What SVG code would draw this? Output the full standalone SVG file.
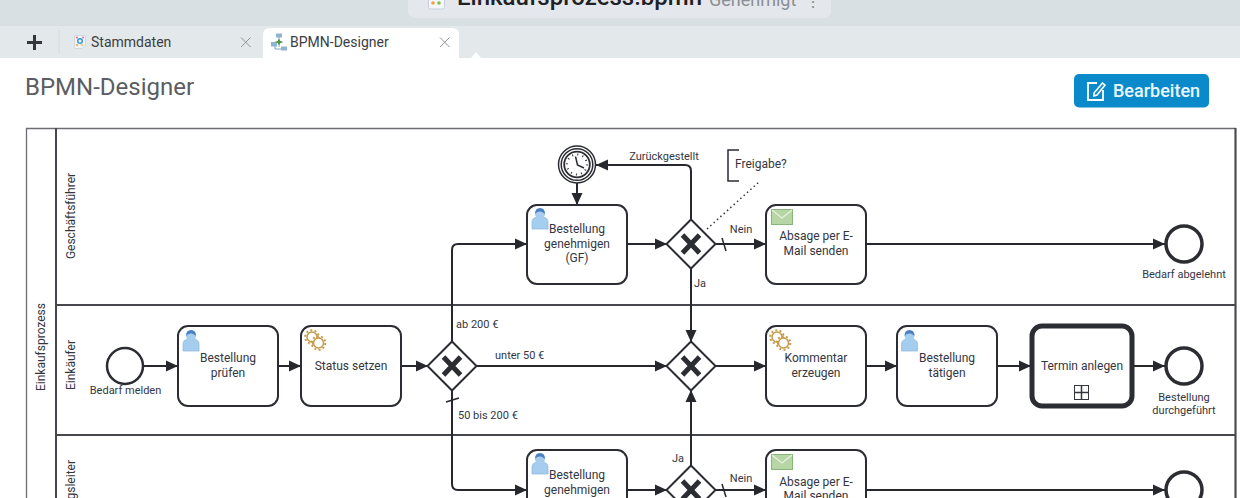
<svg xmlns="http://www.w3.org/2000/svg" xmlns:xlink="http://www.w3.org/1999/xlink" width="1240" height="498" viewBox="0 0 1240 498">
<style>
text{font-family:Roboto,"Liberation Sans",sans-serif;fill:#33363f}
.t{font-size:12px;text-anchor:middle}
.l{font-size:11px}
.c{text-anchor:middle}
.task{fill:#fff;stroke:#2b2d33;stroke-width:2}
.gw{fill:#fff;stroke:#2b2d33;stroke-width:2}
.ev{fill:#fff;stroke:#2b2d33;stroke-width:2.5}
.end{fill:#fff;stroke:#2b2d33;stroke-width:3.5}
.x{fill:none;stroke:#2b2d33;stroke-width:5}
.f{fill:none;stroke:#26282e;stroke-width:2}
.a{marker-end:url(#arr)}
.s{fill:none;stroke:#26282e;stroke-width:1.5}
.lane{fill:none;stroke:#45474d;stroke-width:2}
</style>
<defs>
<marker id="arr" markerUnits="userSpaceOnUse" markerWidth="13" markerHeight="12" refX="12" refY="6" orient="auto"><path d="M0 .5L12 6L0 11.500z" fill="#26282e"/></marker>
<g id="user"><path d="M4 24V17Q4 13 9 12H15Q20 13 20 17V24Z" fill="#a5cdee" stroke="#8bb6de" stroke-width=".7"/><circle cx="12" cy="9" r="5" fill="#a5cdee"/><path d="M7 9Q7 3 12 3Q17 3 17 9Q14 6 12 6.500Q9 6 7 9Z" fill="#4a80c4"/></g>
<g id="gear"><circle cx="9" cy="9" r="5" fill="none" stroke="#c79a4b" stroke-width="1.500"/><circle cx="9" cy="9" r="6.800" fill="none" stroke="#c79a4b" stroke-width="2" stroke-dasharray="2 2.300"/><circle cx="15.500" cy="15" r="5" fill="#fff" stroke="#c79a4b" stroke-width="1.500"/><circle cx="15.500" cy="15" r="6.800" fill="none" stroke="#c79a4b" stroke-width="2" stroke-dasharray="2 2.300"/></g>
<g id="mail"><rect x=".5" y=".5" width="21" height="15" fill="#b6d6a6" stroke="#8ab57a"/><path d="M1 1L11 9L21 1" fill="none" stroke="#e8f2e0" stroke-width="1.200"/></g>
<path id="xm" d="M-8.500 -9L8.500 9M8.500 -9L-8.500 9" class="x"/>
<g id="gwshape"><path d="M0 -24.500L24.500 0L0 24.500L-24.500 0Z" class="gw"/><use xlink:href="#xm" href="#xm"/></g>
</defs>

<rect width="1240" height="498" fill="#fff"/>
<g id="chrome">
<rect width="1240" height="26" fill="#d9e0e3"/>
<rect y="26" width="1240" height="32" fill="#e3e8eb"/>
<rect x="408" y="-12" width="423" height="30" rx="7" fill="#e4e8ec"/>
<rect x="428.500" y="-7" width="16" height="16" rx="1.500" fill="#f4f6fb" stroke="#c8cfdb"/>
<circle cx="433" cy="3" r="1.800" fill="#f2a33a"/><circle cx="439" cy="3" r="1.800" fill="#7cc04b"/>
<text x="457" y="5" font-size="24" font-weight="500" style="fill:#1f2124">Einkaufsprozess.bpmn</text>
<text x="709" y="6" font-size="18" style="fill:#8a8f94">Genehmigt</text>
<text x="805" y="7" font-size="16" style="fill:#8a8f94">⋮</text>
<path d="M27 42.500H42M34.500 35V50" stroke="#33363a" stroke-width="3" fill="none"/>
<path d="M59 30V54" stroke="#d5dadd"/>
<path d="M74.500 35.500H85.500V45L82 48.500H74.500Z" fill="#f2f4f8" stroke="#cdd3dd" stroke-width=".8"/>
<circle cx="80" cy="41" r="2.300" fill="none" stroke="#3d9ad6" stroke-width="1.500"/><circle cx="77" cy="37.500" r="1.100" fill="#e57373"/><circle cx="83" cy="37.500" r="1.100" fill="#b48ad6"/><circle cx="77" cy="45" r="1.100" fill="#f2a33a"/><circle cx="82" cy="45" r="1.100" fill="#f2c14e"/>
<text x="91" y="47" font-size="14" style="fill:#3b3e42">Stammdaten</text>
<path d="M241 37.500L250.500 47M250.500 37.500L241 47" stroke="#8f9497" fill="none"/>
<path d="M263 58V35Q263 28 270 28H452Q459 28 459 35V58Z" fill="#fff"/>
<path d="M471 58L476 52L481 58Z" fill="#fff"/>
<path d="M279 37V47M275 42H283M275 44V49H282" fill="none" stroke="#7da6c4"/>
<rect x="276" y="33.500" width="6" height="4" fill="#8fb4cf"/><rect x="271" y="42" width="6" height="4.500" fill="#8fb4cf"/><rect x="281" y="46.500" width="6" height="4" fill="#8fb4cf"/><path d="M279 39.500V44.500M276.500 42H281.500" stroke="#4b9a3a" stroke-width="2"/>
<text x="290" y="47" font-size="14" style="fill:#3b3e42">BPMN-Designer</text>
<path d="M440 37.500L449.500 47M449.500 37.500L440 47" stroke="#8f9497" fill="none"/>
<text x="25" y="95" font-size="24" style="fill:#5a5d61">BPMN-Designer</text>
<rect x="1074" y="74" width="135" height="33.500" rx="5" fill="#0a8acb"/>
<path d="M1097 83H1088V100H1103V90" fill="none" stroke="#fff" stroke-width="1.800"/>
<path d="M1094 93L1094 96L1097 95L1105 85L1102.500 83Z" fill="none" stroke="#fff" stroke-width="1.600"/>
<text x="1113" y="97" font-size="18" font-weight="500" style="fill:#eaf6fd">Bearbeiten</text>
</g>

<g id="pool">
<path d="M26.500 498V128.500H1235.500V498" fill="none" stroke="#6b6d72" stroke-width="1.300"/>
<path d="M56 128V498" class="lane"/>
<path d="M1235.500 128V498" class="lane"/>
<path d="M56 305H1236M56 435H1236" class="lane"/>
<text class="c" transform="translate(45 347) rotate(-90)" style="font-size:12px">Einkaufsprozess</text>
<text class="c" transform="translate(75 216) rotate(-90)" style="font-size:12px">Geschäftsführer</text>
<text class="c" transform="translate(75 365) rotate(-90)" style="font-size:12px">Einkäufer</text>
<text text-anchor="end" transform="translate(75 460) rotate(-90)" style="font-size:12px">gsleiter</text>
</g>

<g id="connectors">
<path class="f a" d="M577 182V205"/>
<path class="f a" d="M691 219V171Q691 165 685 165H596"/>
<path class="f a" d="M627 244H667"/>
<path class="f a" d="M716 244H766"/>
<path class="s" d="M722 238L726 251"/>
<path class="f a" d="M691 269V342"/>
<path class="f a" d="M866 244H1165"/>
<path class="f a" d="M143 366H178"/>
<path class="f a" d="M278 366H301"/>
<path class="f a" d="M401 366H428"/>
<path class="f a" d="M452 342V250Q452 244 458 244H527"/>
<path class="f a" d="M476 366H667"/>
<path class="f a" d="M452 390V484Q452 490 458 490H527"/>
<path class="s" d="M446 402L459 398"/>
<path class="f a" d="M716 366H766"/>
<path class="f a" d="M866 366H897"/>
<path class="f a" d="M997 366H1031"/>
<path class="f a" d="M1133 366H1165"/>
<path class="f a" d="M691 466V390"/>
<path class="f a" d="M627 490H667"/>
<path class="f a" d="M716 490H766"/>
<path class="s" d="M722 484L726 497"/>
<path class="f a" d="M866 490H1165"/>
<path d="M707 229L760 181" fill="none" stroke="#33363a" stroke-width="1.500" stroke-dasharray="1.500 3"/>
<text class="l c" x="664" y="160">Zurückgestellt</text>
<text class="l c" x="741" y="233">Nein</text>
<text class="l c" x="700" y="287">Ja</text>
<text class="l" x="456" y="328">ab 200 €</text>
<text class="l" x="495" y="359">unter 50 €</text>
<text class="l" x="458" y="419">50 bis 200 €</text>
<text class="l c" x="678" y="462">Ja</text>
<text class="l c" x="741" y="482">Nein</text>
</g>

<g id="annotation-freigabe">
<path d="M739 150H728V181H739" fill="none" stroke="#2b2d33" stroke-width="1.500"/>
<text x="735" y="168" style="font-size:12px">Freigabe?</text>
</g>

<g id="timer">
<circle cx="577" cy="164.500" r="18.500" fill="#fff" stroke="#2b2d33" stroke-width="1.500"/>
<circle cx="577" cy="164.500" r="15.800" fill="none" stroke="#2b2d33" stroke-width="1.500"/>
<circle cx="577" cy="164.500" r="12.800" fill="none" stroke="#2b2d33" stroke-width="1.800"/>
<circle cx="577" cy="164.500" r="10" fill="none" stroke="#2b2d33" stroke-width="2" stroke-dasharray="1 4.240"/>
<path d="M575.500 156.500L577.500 165L584 168" fill="none" stroke="#2b2d33" stroke-width="1.500"/>
</g>

<g id="task-genehmigen-gf"><rect class="task" x="527" y="205" width="100" height="79" rx="10"/><use xlink:href="#user" href="#user" x="528" y="205"/><text class="t" x="577" y="233">Bestellung</text><text class="t" x="577" y="248">genehmigen</text><text class="t" x="577" y="262">(GF)</text></g>
<g id="gw-gf" transform="translate(691 244)"><use xlink:href="#gwshape" href="#gwshape"/></g>
<g id="task-absage-gf"><rect class="task" x="766" y="205" width="100" height="79" rx="10"/><use xlink:href="#mail" href="#mail" x="771" y="209"/><text class="t" x="816" y="240">Absage per E-</text><text class="t" x="816" y="255">Mail senden</text></g>
<g id="end-abgelehnt"><circle class="end" cx="1184" cy="244" r="18"/><text class="l c" x="1184" y="278">Bedarf abgelehnt</text></g>

<g id="start-bedarf"><circle class="ev" cx="125" cy="366" r="18"/><text class="l c" x="125.500" y="394">Bedarf melden</text></g>
<g id="task-pruefen"><rect class="task" x="178" y="326" width="100" height="80" rx="10"/><use xlink:href="#user" href="#user" x="179" y="327"/><text class="t" x="228" y="362">Bestellung</text><text class="t" x="228" y="377">prüfen</text></g>
<g id="task-status"><rect class="task" x="301" y="326" width="100" height="80" rx="10"/><use xlink:href="#gear" href="#gear" x="303" y="328"/><text class="t" x="351" y="370">Status setzen</text></g>
<g id="gw-betrag" transform="translate(452 366)"><use xlink:href="#gwshape" href="#gwshape"/></g>
<g id="gw-merge" transform="translate(691 366)"><use xlink:href="#gwshape" href="#gwshape"/></g>
<g id="task-kommentar"><rect class="task" x="766" y="326" width="100" height="80" rx="10"/><use xlink:href="#gear" href="#gear" x="768" y="328"/><text class="t" x="816" y="362">Kommentar</text><text class="t" x="816" y="377">erzeugen</text></g>
<g id="task-taetigen"><rect class="task" x="897" y="326" width="100" height="80" rx="10"/><use xlink:href="#user" href="#user" x="897.500" y="327"/><text class="t" x="947" y="362">Bestellung</text><text class="t" x="947" y="377">tätigen</text></g>
<g id="sub-termin"><rect class="task" style="stroke-width:5" x="1032" y="326" width="100" height="80" rx="10"/><text class="t" x="1082" y="370">Termin anlegen</text><rect x="1074.500" y="385.500" width="14" height="14" fill="#fff" stroke="#33363a"/><path d="M1081.500 386V399M1075 392.500H1088" stroke="#33363a" stroke-width="1.500"/></g>
<g id="end-durchgefuehrt"><circle class="end" cx="1184" cy="366" r="18"/><text class="l c" x="1184" y="401">Bestellung</text><text class="l c" x="1184" y="414">durchgeführt</text></g>

<g id="task-genehmigen-al"><rect class="task" x="527" y="450" width="100" height="79" rx="10"/><use xlink:href="#user" href="#user" x="528" y="450"/><text class="t" x="577" y="479">Bestellung</text><text class="t" x="577" y="494">genehmigen</text></g>
<g id="gw-al" transform="translate(691 490)"><use xlink:href="#gwshape" href="#gwshape"/></g>
<g id="task-absage-al"><rect class="task" x="766" y="450" width="100" height="79" rx="10"/><use xlink:href="#mail" href="#mail" x="771" y="454"/><text class="t" x="816" y="486">Absage per E-</text><text class="t" x="816" y="500">Mail senden</text></g>
<g id="end-al"><circle class="end" cx="1184" cy="490" r="18"/></g>
</svg>
